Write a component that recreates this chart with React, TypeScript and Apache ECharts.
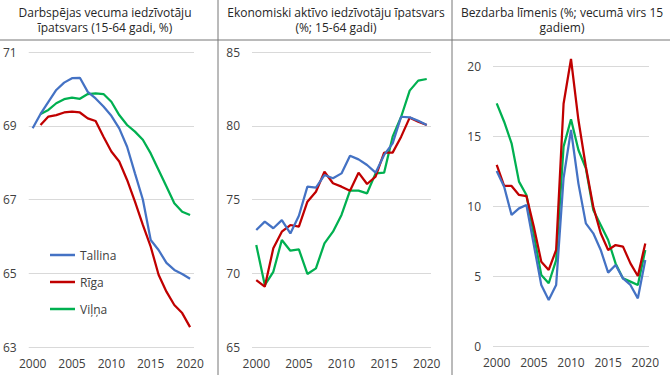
import React, { useEffect, useRef } from "react";
import * as echarts from "echarts";

const years = ["2000","2001","2002","2003","2004","2005","2006","2007","2008","2009","2010","2011","2012","2013","2014","2015","2016","2017","2018","2019","2020"];

const seriesNames = ["Tallina", "Rīga", "Viļņa"];
const colors = ["#4472C4", "#C00000", "#00B050"];

// Panel 1: working-age population share (15-64, %)
const workAgeTallina = [68.93, 69.32, 69.65, 69.97, 70.17, 70.29, 70.3, 69.92, 69.74, 69.52, 69.27, 68.93, 68.43, 67.71, 67.0, 65.9, 65.63, 65.28, 65.09, 64.98, 64.85];
const workAgeRiga = [null, 69.02, 69.25, 69.29, 69.36, 69.38, 69.36, 69.2, 69.13, 68.7, 68.3, 68.03, 67.53, 66.94, 66.31, 65.72, 64.96, 64.5, 64.14, 63.92, 63.54];
const workAgeVilnius = [null, 69.32, 69.43, 69.61, 69.72, 69.76, 69.73, 69.86, 69.88, 69.86, 69.65, 69.29, 69.02, 68.84, 68.62, 68.25, 67.8, 67.35, 66.9, 66.67, 66.58];

// Panel 2: economically active population share (%; 15-64)
const activeTallina = [72.93, 73.5, 73.05, 73.6, 72.7, 73.9, 75.87, 75.8, 76.66, 76.44, 76.77, 77.97, 77.72, 77.34, 76.82, 78.02, 78.81, 80.61, 80.57, 80.34, 80.05];
const activeRiga = [69.54, 69.09, 71.69, 72.82, 73.27, 73.16, 74.85, 75.53, 76.88, 76.1, 75.87, 75.6, 76.82, 76.05, 76.55, 78.18, 78.18, 79.26, 80.55, 80.28, 80.05];
const activeVilnius = [71.92, 69.2, 70.1, 72.25, 71.53, 71.62, 69.95, 70.33, 72.03, 72.82, 73.95, 75.6, 75.6, 75.42, 76.77, 76.82, 79.26, 80.61, 82.38, 83.06, 83.17];

// Panel 3: unemployment rate (%; aged 15+)
const unempTallina = [12.5, 11.38, 9.36, 9.83, 10.07, 7.21, 4.36, 3.29, 4.36, 12.0, 15.43, 11.6, 8.76, 8.05, 6.86, 5.24, 5.79, 4.83, 4.36, 3.4, 6.14];
const unempRiga = [12.93, 11.43, 11.43, 10.79, 10.71, 8.52, 6.02, 5.43, 6.86, 17.3, 20.5, 16.14, 12.8, 9.95, 8.05, 6.86, 7.21, 7.1, 5.9, 5.0, 7.33];
const unempVilnius = [17.33, 16.02, 14.48, 11.74, 10.79, 7.93, 5.07, 4.48, 6.14, 14.24, 16.19, 14.0, 12.69, 9.71, 8.64, 7.57, 5.9, 4.83, 4.6, 4.36, 6.86];

const titleLines = [
  ["Darbspējas vecuma iedzīvotāju", "īpatsvars (15-64 gadi, %)"],
  ["Ekonomiski aktīvo iedzīvotāju īpatsvars", "(%; 15-64 gadi)"],
  ["Bezdarba līmenis (%; vecumā virs 15", "gadiem)"],
];

const FONT = "Open Sans";

export default function App() {
  const ref = useRef<HTMLDivElement>(null);
  useEffect(() => {
    if (!ref.current) return;
    const chart = echarts.init(ref.current, null, { renderer: "svg" });
    const panels = [
      [workAgeTallina, workAgeRiga, workAgeVilnius],
      [activeTallina, activeRiga, activeVilnius],
      [unempTallina, unempRiga, unempVilnius],
    ];
    const grids = [
      { left: 28, top: 52, width: 166, height: 295 },
      { left: 252, top: 52, width: 179, height: 295 },
      { left: 493, top: 66, width: 156, height: 280 },
    ];
    const yRanges = [
      { min: 63, max: 71, interval: 2 },
      { min: 65, max: 85, interval: 5 },
      { min: 0, max: 20, interval: 5 },
    ];
    const titleX = [105, 336, 562];

    const series: any[] = [];
    panels.forEach((p, gi) => {
      p.forEach((d, si) => {
        series.push({
          type: "line",
          name: seriesNames[si],
          xAxisIndex: gi,
          yAxisIndex: gi,
          data: d,
          symbol: "none",
          showSymbol: false,
          connectNulls: false,
          clip: false,
          lineStyle: { width: 2.25, color: colors[si] },
          itemStyle: { color: colors[si] },
          z: 3 - si,
        });
      });
    });

    const graphic: any[] = [
      { type: "line", shape: { x1: 0, y1: 40, x2: 670, y2: 40 }, style: { stroke: "#767676", lineWidth: 1 } },
      { type: "line", shape: { x1: 218, y1: 0, x2: 218, y2: 375 }, style: { stroke: "#767676", lineWidth: 1 } },
      { type: "line", shape: { x1: 452, y1: 0, x2: 452, y2: 375 }, style: { stroke: "#767676", lineWidth: 1 } },
    ];
    titleLines.forEach((lines, i) => {
      lines.forEach((t, li) => {
        graphic.push({
          type: "text",
          x: titleX[i],
          y: 12 + li * 15.5,
          style: {
            text: t,
            textAlign: "center",
            textVerticalAlign: "middle",
            fontSize: 12,
            fontFamily: FONT,
            fill: "#262626",
          },
        });
      });
    });

    chart.setOption({
      animation: false,
      backgroundColor: "#ffffff",
      grid: grids,
      xAxis: grids.map((_, i) => ({
        type: "category",
        gridIndex: i,
        data: years,
        boundaryGap: true,
        axisLine: { show: false },
        axisTick: { show: false },
        axisLabel: {
          interval: 4,
          fontSize: 12,
          fontFamily: FONT,
          color: "#404040",
          margin: 10,
        },
      })),
      yAxis: yRanges.map((r, i) => ({
        type: "value",
        gridIndex: i,
        min: r.min,
        max: r.max,
        interval: r.interval,
        axisLine: { show: false },
        axisTick: { show: false },
        splitLine: { lineStyle: { color: "#d9d9d9", width: 1 } },
        axisLabel: {
          fontSize: 12,
          fontFamily: FONT,
          color: "#404040",
          margin: 12,
        },
      })),
      legend: {
        data: seriesNames.map((n) => ({ name: n, icon: "rect" })),
        orient: "vertical",
        left: 45,
        top: 242,
        itemWidth: 25,
        itemHeight: 2.5,
        itemGap: 11,
        textStyle: { fontSize: 12, fontFamily: FONT, color: "#404040", lineHeight: 16 },
      },
      series,
      graphic,
    });
    return () => chart.dispose();
  }, []);
  return (
    <div
      ref={ref}
      style={{ position: "fixed", left: 0, top: 0, width: 670, height: 375 }}
    />
  );
}
